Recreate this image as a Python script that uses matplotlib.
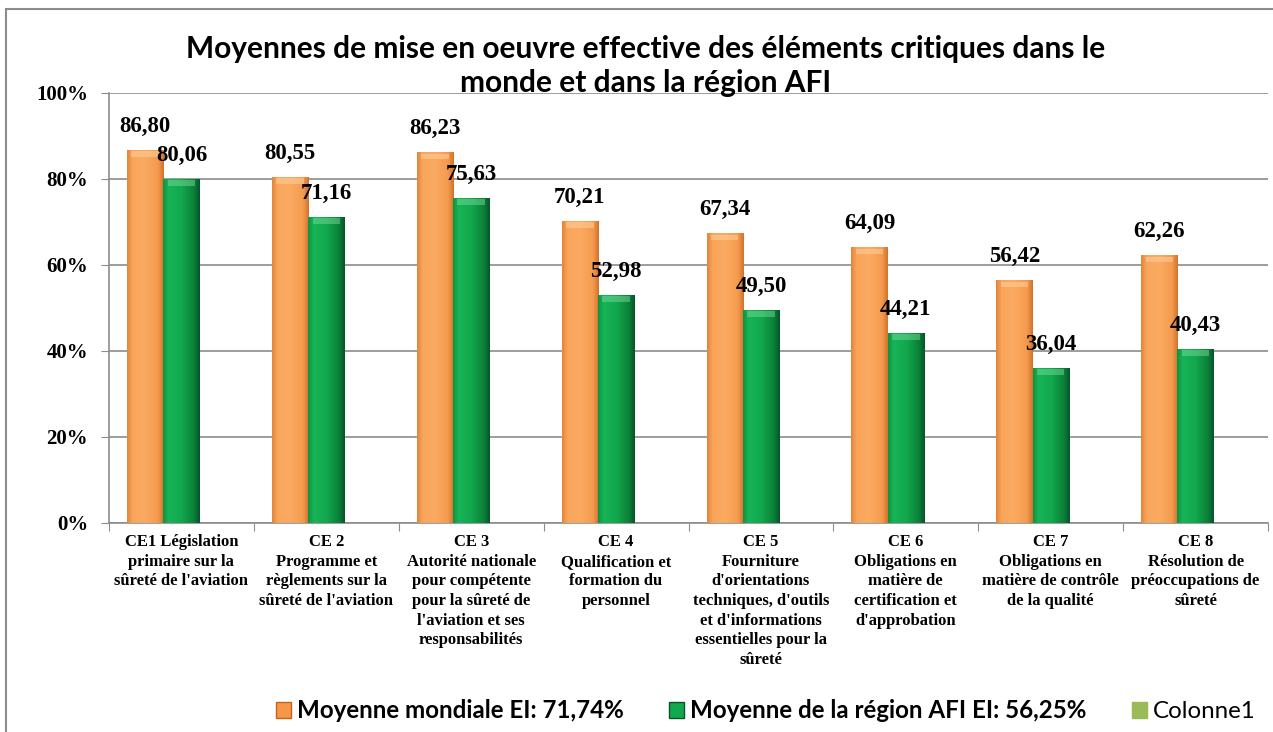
import numpy as np
import matplotlib.pyplot as plt
from matplotlib.colors import LinearSegmentedColormap
from matplotlib.patches import Rectangle, Patch

categories = [
    "CE1 Législation\nprimaire sur la\nsûreté de l'aviation",
    "CE 2\nProgramme et\nrèglements sur la\nsûreté de l'aviation",
    "CE 3\nAutorité nationale\npour compétente\npour la sûreté de\nl'aviation et ses\nresponsabilités",
    "CE 4\nQualification et\nformation du\npersonnel",
    "CE 5\nFourniture\nd'orientations\ntechniques, d'outils\net d'informations\nessentielles pour la\nsûreté",
    "CE 6\nObligations en\nmatière de\ncertification et\nd'approbation",
    "CE 7\nObligations en\nmatière de contrôle\nde la qualité",
    "CE 8\nRésolution de\npréoccupations de\nsûreté",
]
mondiale = [86.80, 80.55, 86.23, 70.21, 67.34, 64.09, 56.42, 62.26]
afi = [80.06, 71.16, 75.63, 52.98, 49.50, 44.21, 36.04, 40.43]
colonne1 = [np.nan] * 8
series_names = ["Moyenne mondiale EI: 71,74%",
                "Moyenne de la région AFI EI: 56,25%",
                "Colonne1"]
yticks = [0, 20, 40, 60, 80, 100]
title = ("Moyennes de mise en oeuvre effective des éléments critiques dans le\n"
         "monde et dans la région AFI")

serif = ['Liberation Serif', 'DejaVu Serif']
sans = ['Lato', 'DejaVu Sans']

orange_cm = LinearSegmentedColormap.from_list(
    "o", [(0, '#E4853A'), (0.15, '#F9A65C'), (0.5, '#FBAA62'),
          (0.85, '#F49A4E'), (1, '#D2732C')])
green_cm = LinearSegmentedColormap.from_list(
    "g", [(0, '#0E9444'), (0.15, '#18B457'), (0.5, '#12A84D'),
          (0.85, '#0B7F38'), (1, '#05562A')])

fig = plt.figure(figsize=(12.73, 7.32), dpi=100)
ax = fig.add_axes([109 / 1273, 1 - 523 / 732, 1159 / 1273, 430 / 732])

x = np.arange(len(categories))
w = 0.25
b1 = ax.bar(x - w, mondiale, w, color='#F79646', zorder=3)
b2 = ax.bar(x, afi, w, color='#12A84D', zorder=3)
ax.bar(x + w, colonne1, w, color='#9BBB59', zorder=3)


def shade(bars, cmap, cap):
    grad = np.linspace(0, 1, 64).reshape(1, -1)
    for b in bars:
        bx, by = b.get_x(), b.get_y()
        bw, bh = b.get_width(), b.get_height()
        im = ax.imshow(grad, cmap=cmap, extent=[bx, bx + bw, by, by + bh],
                       aspect='auto', zorder=3.5, interpolation='bilinear')
        im.set_clip_path(b)
        # light bevel at the top of the bar
        ax.add_patch(Rectangle((bx + bw * 0.12, by + bh - 1.6), bw * 0.76, 1.3,
                               facecolor=cap, edgecolor='none', alpha=0.45,
                               zorder=3.6))


shade(b1, orange_cm, '#FFD9A8')
shade(b2, green_cm, '#7FE0A0')

for bars, vals in ((b1, mondiale), (b2, afi)):
    for b, v in zip(bars, vals):
        ax.annotate(f"{v:.2f}".replace('.', ','),
                    (b.get_x() + b.get_width() / 2, v),
                    xytext=(0, 13), textcoords='offset points',
                    ha='center', va='baseline', fontsize=16.5,
                    fontweight='bold', family=serif, zorder=5)

ax.set_xlim(-0.5, len(categories) - 0.5)
ax.set_ylim(0, 100)
ax.set_yticks(yticks)
ax.set_yticklabels([f"{t}%" for t in yticks], fontsize=15,
                   fontweight='bold', family=serif)
ax.yaxis.grid(True, color='#8C8C8C', lw=1.2, zorder=0)
ax.set_axisbelow(True)

ax.set_xticks(np.arange(len(categories) + 1) - 0.5)
ax.set_xticklabels([])
ax.set_xticks(x, minor=True)
ax.set_xticklabels(categories, minor=True, fontsize=12, fontweight='bold',
                   family=serif, linespacing=1.3, va='top')
ax.tick_params(axis='x', which='major', length=6, color='#8C8C8C')
ax.tick_params(axis='x', which='minor', length=0, pad=8)
ax.tick_params(axis='y', length=6, color='#8C8C8C', pad=9)

for s in ('top', 'right'):
    ax.spines[s].set_visible(False)
for s in ('left', 'bottom'):
    ax.spines[s].set_color('#8C8C8C')
    ax.spines[s].set_linewidth(1.2)

fig.text(0.507, 1 - 66 / 732, title, ha='center', va='center',
         fontsize=21.5, fontweight='bold', family=sans, linespacing=1.25,
         zorder=10)

# chart border
fig.patches.append(Rectangle((6 / 1273, -0.1), 1.2, 1.1 - 9 / 732,
                             transform=fig.transFigure, fill=False,
                             edgecolor='#8C8C8C', lw=1.5))

handles = [Patch(facecolor='#F79646', edgecolor='#C0651F'),
           Patch(facecolor='#12A84D', edgecolor='#05562A'),
           Patch(facecolor='#9BBB59', edgecolor='#9BBB59')]
leg = fig.legend(handles, series_names, loc='center left',
                 bbox_to_anchor=(276 / 1273, 1 - 711 / 732), ncol=3,
                 frameon=False, prop={'family': sans, 'size': 17.4},
                 handlelength=0.6, handleheight=0.6, handletextpad=0.25,
                 columnspacing=1.9, borderaxespad=0, borderpad=0)
for t in leg.get_texts()[:2]:
    t.set_fontweight('bold')

fig.savefig("out.png", dpi=100)
